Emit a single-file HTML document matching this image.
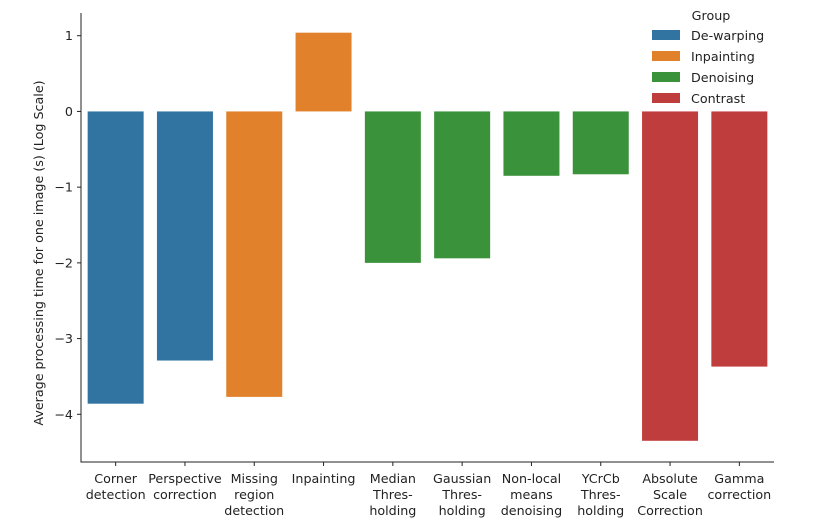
<!DOCTYPE html>
<html><head><meta charset="utf-8"><style>
body{margin:0;background:#fff;}
svg{display:block;font-family:"DejaVu Sans","Liberation Sans",sans-serif;}
</style></head><body>
<svg id="chart" width="825" height="524"></svg>
<script>
const categories=[["Corner","detection"],["Perspective","correction"],["Missing","region","detection"],["Inpainting"],["Median","Thres-","holding"],["Gaussian","Thres-","holding"],["Non-local","means","denoising"],["YCrCb","Thres-","holding"],["Absolute","Scale","Correction"],["Gamma","correction"]];
const values=[-3.86,-3.29,-3.77,1.04,-2.0,-1.94,-0.85,-0.83,-4.35,-3.37];
const groups=["De-warping","De-warping","Inpainting","Inpainting","Denoising","Denoising","Denoising","Denoising","Contrast","Contrast"];
const groupNames=["De-warping","Inpainting","Denoising","Contrast"];
const groupColors={"De-warping":"#3274a1","Inpainting":"#e1812c","Denoising":"#3a923a","Contrast":"#c03d3e"};
const yTicks=[1,0,-1,-2,-3,-4];
const tickLabels=["1","0","\u22121","\u22122","\u22123","\u22124"];

const NS="http://www.w3.org/2000/svg";
const svg=document.getElementById('chart');
const L=81,R=774,T=13,B=462,yMax=1.30,yMin=-4.63;
const FS=12.7;
const y=v=>T+(yMax-v)/(yMax-yMin)*(B-T);
const step=(R-L)/categories.length;
const x=i=>L+step*(i+0.5);
function mk(tag,attrs,txt){const e=document.createElementNS(NS,tag);for(const k in attrs)e.setAttribute(k,attrs[k]);if(txt!==undefined)e.textContent=txt;svg.appendChild(e);return e;}

values.forEach((v,i)=>{
  const bw=56;
  const r=mk('rect',{x:x(i)-bw/2,y:Math.min(y(v),y(0)),width:bw,height:Math.abs(y(v)-y(0)),fill:groupColors[groups[i]]});
  
  
  categories[i].forEach((ln,j)=>{
    const t=mk('text',{x:x(i),y:483+j*16,'text-anchor':'middle','font-size':FS,fill:'#222'},ln);
    
    
  });
  const tk=mk('line',{x1:x(i),x2:x(i),y1:B,y2:B+4,stroke:'#222'});
  
  
});
yTicks.forEach((v,i)=>{
  const tk=mk('line',{x1:L-4,x2:L,y1:y(v),y2:y(v),stroke:'#222'});
  
  
  const t=mk('text',{x:L-8,y:y(v)+4.5,'text-anchor':'end','font-size':FS,fill:'#222'},tickLabels[i]);
  
  
});
const ax=mk('path',{d:`M${L},${T}V${B}H${R}`,fill:'none',stroke:'#222','stroke-width':1});


const yt=mk('text',{x:0,y:0,transform:`translate(43,253) rotate(-90)`,'text-anchor':'middle','font-size':FS,fill:'#222'},'Average processing time for one image (s) (Log Scale)');


const lt=mk('text',{x:711,y:20,'text-anchor':'middle','font-size':FS,fill:'#222'},'Group');


groupNames.forEach((g,i)=>{
  const ry=30+i*21;
  const p=mk('rect',{x:652,y:ry,width:28,height:10,fill:groupColors[g]});
  
  
  const t=mk('text',{x:691,y:ry+10,'font-size':FS,fill:'#222'},g);
  
  
});
</script>
</body></html>
